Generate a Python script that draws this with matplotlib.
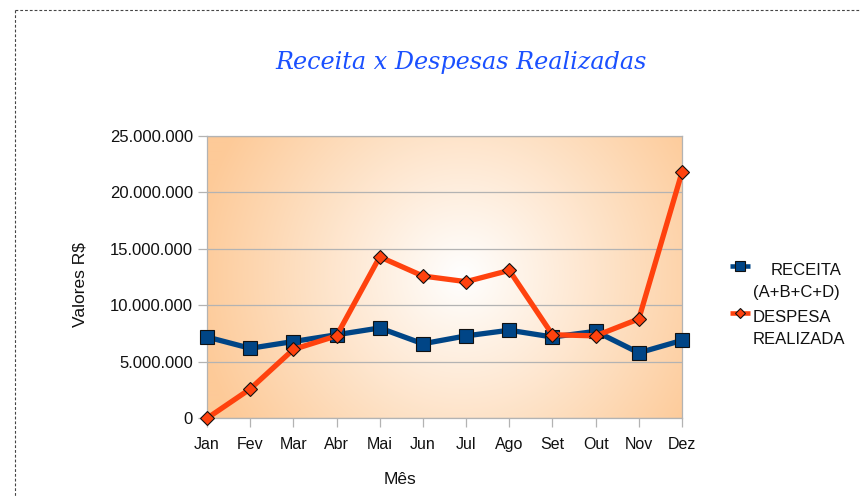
import numpy as np
import matplotlib
matplotlib.use("Agg")
import matplotlib.pyplot as plt
from matplotlib.lines import Line2D
from matplotlib.ticker import FuncFormatter, MultipleLocator

months = ["Jan", "Fev", "Mar", "Abr", "Mai", "Jun", "Jul", "Ago", "Set", "Out", "Nov", "Dez"]
receita = [7.2e6, 6.2e6, 6.8e6, 7.4e6, 8.0e6, 6.6e6, 7.3e6, 7.8e6, 7.2e6, 7.7e6, 5.8e6, 6.9e6]
despesa = [0.0, 2.6e6, 6.1e6, 7.3e6, 14.3e6, 12.6e6, 12.1e6, 13.1e6, 7.4e6, 7.3e6, 8.8e6, 21.8e6]
series_labels = [("RECEITA", "(A+B+C+D)"), ("DESPESA", "REALIZADA")]
title = "Receita x Despesas Realizadas"
ylabel = "Valores R$"
xlabel = "Mês"

BLUE = "#004586"
ORANGE = "#ff420e"
GRID = "#b3b3b3"
W, H = 861, 496

plt.rcParams['font.family'] = ['Liberation Sans', 'DejaVu Sans']

fig = plt.figure(figsize=(W / 100, H / 100), dpi=100)
L, R, T, B = 207, 682, 136, 418.3
ax = fig.add_axes([L / W, 1 - B / H, (R - L) / W, (B - T) / H])

# radial gradient background
pw, ph = int(R - L), int(B - T)
yy, xx = np.mgrid[0:ph, 0:pw]
cx, cy = 255, 140
d = np.sqrt((xx - cx) ** 2 + (yy - cy) ** 2)
t = np.clip(d / 270.0, 0, 1)[..., None]
edge = np.array([253, 202, 152]) / 255.0
white = np.array([1.0, 1.0, 1.0])
img = white * (1 - t) + edge * t
ax.imshow(img, extent=[0, 1, 0, 1], transform=ax.transAxes, aspect='auto', zorder=0,
          interpolation='bilinear')

x = np.arange(len(months))
ax.plot(x, receita, color=BLUE, lw=3.8, marker='s', ms=10.5, mfc=BLUE, mec='#111111',
        mew=0.8, clip_on=False, zorder=3)
ax.plot(x, despesa, color=ORANGE, lw=3.8, marker='D', ms=7, mfc=ORANGE, mec='#111111',
        mew=0.8, clip_on=False, zorder=4)

ax.set_xlim(0, len(months) - 1)
ax.set_ylim(0, 25e6)
ax.yaxis.set_major_locator(MultipleLocator(5e6))
ax.yaxis.set_major_formatter(FuncFormatter(lambda v, p: f"{int(round(v)):,}".replace(",", ".")))
ax.set_xticks(x)
ax.set_xticklabels(months)
ax.grid(axis='y', color=GRID, lw=0.9, zorder=0.5)
ax.set_axisbelow(True)
for s in ax.spines.values():
    s.set_color(GRID)
    s.set_linewidth(0.9)
ax.tick_params(axis='both', color=GRID, length=6.5, width=0.9, labelcolor='#111111')
ax.tick_params(axis='y', pad=3.5, labelsize=12)
ax.tick_params(axis='x', pad=7, labelsize=11.5)

fig.text(461.5 / W, 1 - 62 / H, title, ha='center', va='center', fontsize=17.2,
         family='DejaVu Serif', style='italic', color='#1a50ff')
fig.text(80 / W, 1 - 285 / H, ylabel, ha='center', va='center', rotation=90, fontsize=12.5,
         color='#111111')
fig.text(400 / W, 1 - 479 / H, xlabel, ha='center', va='center', fontsize=12.5, color='#111111')

# legend (manual)
def fx(px):
    return px / W

def fy(py):
    return 1 - py / H

for (c, mk, ms, my) in [(BLUE, 's', 7, 266), (ORANGE, 'D', 5, 313)]:
    fig.add_artist(Line2D([fx(730), fx(750)], [fy(my), fy(my)], color=c, lw=3.3,
                          solid_capstyle='butt'))
    fig.add_artist(Line2D([fx(740)], [fy(my)], color=c, marker=mk, ms=ms, mfc=c,
                          mec='#111111', mew=0.8, lw=0))
lf = 12
fig.text(fx(841), fy(270.5), series_labels[0][0], ha='right', va='center', fontsize=lf, color='#111111')
fig.text(fx(753), fy(293), series_labels[0][1], ha='left', va='center', fontsize=lf, color='#111111')
fig.text(fx(753), fy(318), series_labels[1][0], ha='left', va='center', fontsize=lf, color='#111111')
fig.text(fx(753), fy(340), series_labels[1][1], ha='left', va='center', fontsize=lf, color='#111111')

# dotted frame
fig.add_artist(Line2D([fx(15), fx(W)], [fy(10), fy(10)], color='#444444', lw=0.8,
                      linestyle=(0, (2.5, 1.8))))
fig.add_artist(Line2D([fx(15), fx(15)], [fy(10), fy(H)], color='#444444', lw=0.8,
                      linestyle=(0, (2.5, 1.8))))

fig.savefig("out.png", dpi=100)
